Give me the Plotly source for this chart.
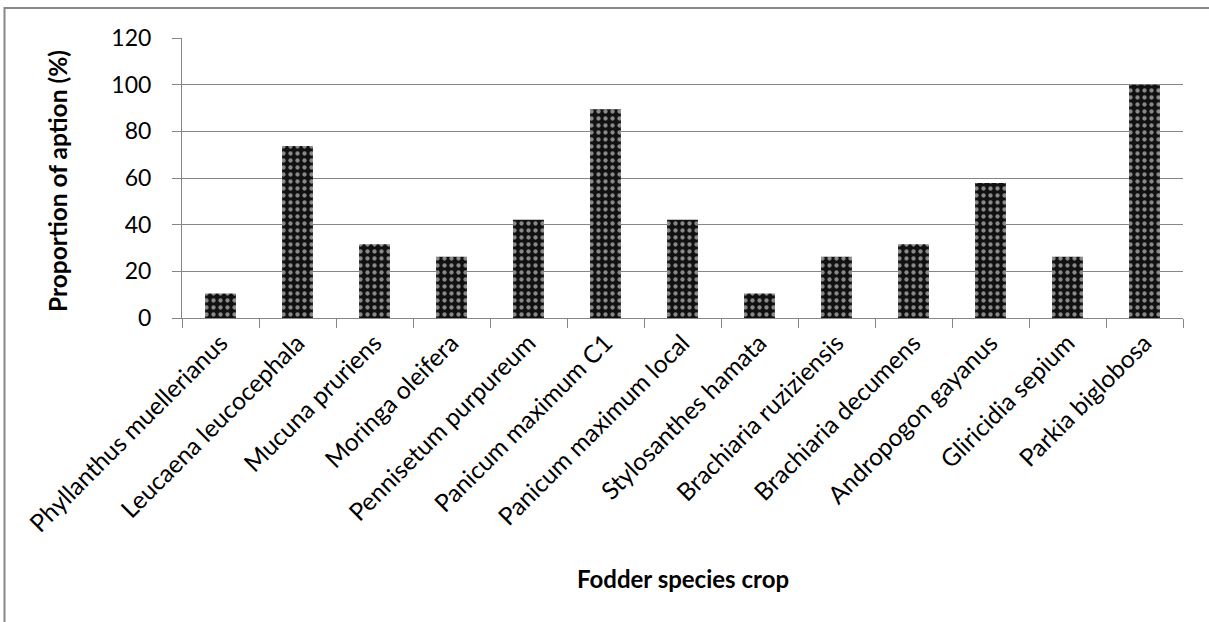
import plotly.graph_objects as go

species = [
    "Phyllanthus muellerianus", "Leucaena leucocephala", "Mucuna pruriens",
    "Moringa oleifera", "Pennisetum purpureum", "Panicum maximum C1",
    "Panicum maximum local", "Stylosanthes hamata", "Brachiaria ruziziensis",
    "Brachiaria decumens", "Andropogon gayanus", "Gliricidia sepium",
    "Parkia biglobosa",
]
proportion = [10.5, 73.7, 31.6, 26.3, 42.1, 89.5, 42.1, 10.5, 26.3, 31.6, 57.9, 26.3, 100]
y_ticks = [0, 20, 40, 60, 80, 100, 120]

FONT = "Lato"
GRAY = "#868686"

fig = go.Figure(go.Bar(
    x=species, y=proportion,
    marker=dict(color="black", line=dict(width=0),
                pattern=dict(shape=".", fgcolor="white", bgcolor="#111111",
                             size=7, solidity=0.3)),
))

L, R, T, B = 182, 26, 38, 304
W, H = 1209, 622
pw, ph = W - L - R, H - T - B

fig.update_layout(
    width=W, height=H,
    margin=dict(l=L, r=R, t=T, b=B, pad=0),
    paper_bgcolor="white", plot_bgcolor="white",
    showlegend=False, bargap=0.6,
    font=dict(family=FONT, color="black"),
    xaxis=dict(
        showline=True, linecolor=GRAY, linewidth=1,
        ticks="outside", tickson="boundaries", ticklen=9, tickcolor=GRAY,
        tickangle=-45, tickfont=dict(size=24.5, family=FONT),
        showgrid=False, automargin=False,
    ),
    yaxis=dict(
        range=[0, 120], tickvals=y_ticks,
        showline=True, linecolor=GRAY, linewidth=1,
        ticks="outside", ticklen=9, tickcolor=GRAY,
        showgrid=True, gridcolor=GRAY, gridwidth=1,
        tickfont=dict(size=23, family=FONT),
        ticklabelstandoff=16, zeroline=False, automargin=False,
    ),
    annotations=[
        dict(text="<b>Fodder species crop</b>", xref="paper", yref="paper",
             x=0.5, y=-(578 - 318) / ph, xanchor="center", yanchor="middle",
             showarrow=False, font=dict(size=24, family=FONT)),
        dict(text="<b>Proportion of aption (%)</b>", xref="paper", yref="paper",
             x=(57 - L) / pw, y=((318 - 181) / ph), xanchor="center", yanchor="middle",
             textangle=-90, showarrow=False, font=dict(size=24.5, family=FONT)),
    ],
    shapes=[
        dict(type="rect", xref="paper", yref="paper",
             x0=(4.5 - L) / pw, x1=(W + 10 - L) / pw,
             y0=-(H + 10 - 318) / ph, y1=1 + (38 - 8) / ph,
             line=dict(color="#878787", width=2), fillcolor="rgba(0,0,0,0)",
             layer="below"),
    ],
)

fig.write_html("out.html",
               config={"displayModeBar": False},
               post_script="document.body.style.margin='0';document.body.style.overflow='hidden';")
